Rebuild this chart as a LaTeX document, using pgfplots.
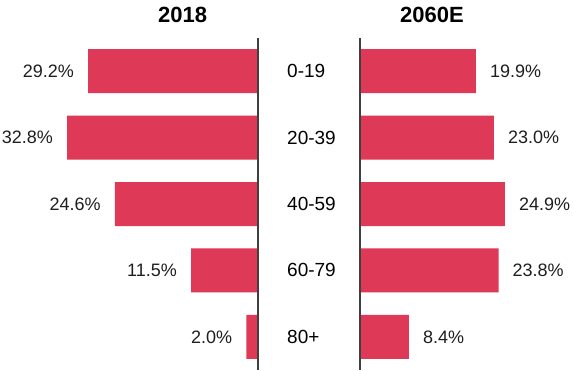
\documentclass[border=0pt]{standalone}
\usepackage{pgfplots}
\pgfplotsset{compat=1.18}
\usepackage{fontspec}
\setmainfont{Liberation Sans}
\definecolor{barred}{RGB}{222,57,86}
\definecolor{txt}{RGB}{30,30,30}
\begin{document}
\begin{tikzpicture}
\useasboundingbox (0pt,0pt) rectangle (573pt,370pt);
\pgfplotsset{pyr/.style={
  scale only axis, height=332pt, ymin=-0.5, ymax=4.5, y dir=reverse,
  xbar, bar width=44pt, axis line style={draw=none}, xtick=\empty,
  major tick length=0pt, clip=false,
  point meta=explicit symbolic,
  nodes near coords={\pgfplotspointmeta\%},
  every node near coord/.append style={font=\fontsize{18}{20}\selectfont, text=txt, inner sep=0pt},
  every axis title/.style={anchor=base, yshift=16pt, font=\bfseries\fontsize{22}{24}\selectfont, text=black},
}}
% left: 2018
\begin{axis}[pyr, at={(0pt,0pt)}, anchor=south west, width=258pt,
  xmin=-44.33, xmax=0, ytick=\empty,
  title={2018}, title style={at={(0.708,1)}},
  nodes near coords align={anchor=east},
  every node near coord/.append style={xshift=-14pt}]
\addplot[fill=barred, draw=none] table[meta=l] {
x y l
-29.2 0 29.2
-32.8 1 32.8
-24.6 2 24.6
-11.5 3 11.5
-2.0 4 2.0
};
\draw[black!75, line width=1.2pt] (axis cs:0,-0.5) -- (axis cs:0,4.5);
\end{axis}
% right: 2060E
\begin{axis}[pyr, at={(360pt,0pt)}, anchor=south west, width=213pt,
  xmin=0, xmax=36.6, ytick={0,1,2,3,4},
  yticklabels={0-19,20-39,40-59,60-79,80+},
  yticklabel style={anchor=west, inner sep=0pt, xshift=-73pt, font=\fontsize{19}{21}\selectfont, text=black},
  title={2060E}, title style={at={(0.338,1)}},
  nodes near coords align={anchor=west},
  every node near coord/.append style={xshift=14pt}]
\addplot[fill=barred, draw=none] table[meta=l] {
x y l
19.9 0 19.9
23.0 1 23.0
24.9 2 24.9
23.8 3 23.8
8.4 4 8.4
};
\draw[black!75, line width=1.2pt] (axis cs:0,-0.5) -- (axis cs:0,4.5);
\end{axis}
\end{tikzpicture}
\end{document}
